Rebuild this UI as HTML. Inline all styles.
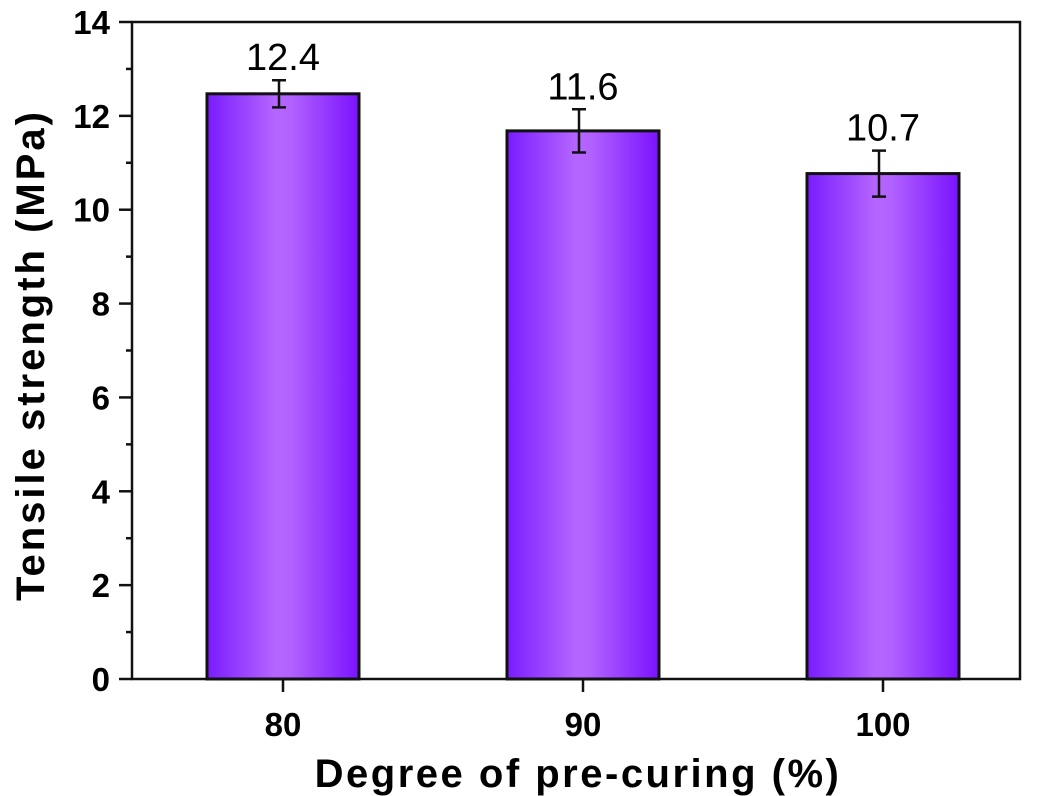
<!DOCTYPE html>
<html><head><meta charset="utf-8"><style>
body{margin:0;background:#fff;}
svg{display:block;font-family:"Liberation Sans",Arial,sans-serif;}
</style></head><body>
<svg id="chart" width="1039" height="796" viewBox="0 0 1039 796">
<defs>
<linearGradient id="barGrad" x1="0" x2="1" y1="0" y2="0">
<stop offset="0" stop-color="#7a1cff"/>
<stop offset="0.45" stop-color="#b565ff"/>
<stop offset="0.55" stop-color="#b262ff"/>
<stop offset="1" stop-color="#7a12ff"/>
</linearGradient>
</defs>
<g id="plot"></g>
<text transform="translate(44,355) rotate(-90)" text-anchor="middle" font-size="40" font-weight="bold" letter-spacing="3">Tensile strength (MPa)</text>
<text x="578" y="787" text-anchor="middle" font-size="40" font-weight="bold" letter-spacing="2.5">Degree of pre-curing (%)</text>
</svg>
<script>
const categories = ['80','90','100'];
const values = [12.47, 11.68, 10.77];
const errors = [0.29, 0.46, 0.49];
const valueLabels = ['12.4','11.6','10.7'];
const yTicks = [0,2,4,6,8,10,12,14];

const L=132,R=1020,T=22,B=679,yMax=14;
const y=v=>B-(v/yMax)*(B-T);
const x=i=>283+i*300;
const bw=152;
const g=document.getElementById('plot');
const NS='http://www.w3.org/2000/svg';
function mk(t,a){const e=document.createElementNS(NS,t);for(const k in a)e.setAttribute(k,a[k]);g.appendChild(e);return e;}

values.forEach((v,i)=>{
  const r=mk('rect',{x:x(i)-bw/2,y:y(v),width:bw,height:B-y(v),fill:'url(#barGrad)',stroke:'#111','stroke-width':3});
  
  
  const e=errors[i],cx=x(i)-4;
  const eb=mk('path',{d:`M${cx},${y(v+e)}V${y(v-e)}M${cx-7},${y(v+e)}H${cx+7}M${cx-7},${y(v-e)}H${cx+7}`,stroke:'#111','stroke-width':2.5,fill:'none'});
  
  
  const t=mk('text',{x:x(i),y:y(v+e)-10,'text-anchor':'middle','font-size':38});
  t.textContent=valueLabels[i];
  
  
  const tk=mk('line',{x1:x(i),x2:x(i),y1:B,y2:B+13,stroke:'#111','stroke-width':2.5});
  
  
  const tl=mk('text',{x:x(i),y:B+57,'text-anchor':'middle','font-size':33,'font-weight':'bold'});
  tl.textContent=categories[i];
  
  
});
yTicks.forEach(v=>{
  const tk=mk('line',{x1:L-13,x2:L,y1:y(v),y2:y(v),stroke:'#111','stroke-width':2.5});
  
  
  if(v<yMax){const m=mk('line',{x1:L-6,x2:L,y1:y(v+1),y2:y(v+1),stroke:'#111','stroke-width':2.5});
  
  }
  const tl=mk('text',{x:L-22,y:y(v)+12,'text-anchor':'end','font-size':33,'font-weight':'bold'});
  tl.textContent=v;
  
  
});
const fr=mk('rect',{x:L,y:T,width:R-L,height:B-T,fill:'none',stroke:'#111','stroke-width':2.5});


</script>
</body></html>
